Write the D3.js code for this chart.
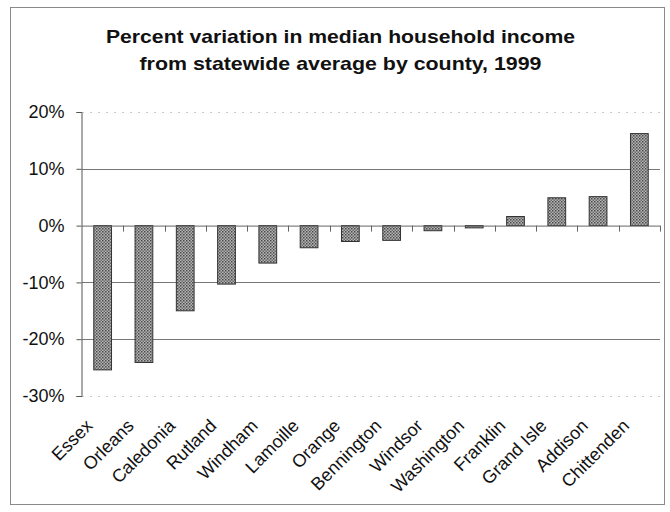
<!DOCTYPE html>
<html>
<head>
<meta charset="utf-8">
<script src="https://cdn.jsdelivr.net/npm/d3@7"></script>
<style>
  body { margin: 0; background: #fff; }
  svg { display: block; }
</style>
</head>
<body>
<svg id="chart" width="670" height="512"></svg>
<script>
// Counties ordered from lowest to highest income variation
const counties = ["Essex", "Orleans", "Caledonia", "Rutland", "Windham", "Lamoille", "Orange",
  "Bennington", "Windsor", "Washington", "Franklin", "Grand Isle", "Addison", "Chittenden"];
// Percent variation from the statewide median household income, 1999
const variation = [-25.4, -24.1, -15.0, -10.3, -6.6, -3.9, -2.8, -2.6, -0.9, -0.4, 1.6, 4.9, 5.1, 16.2];
const yTicks = [20, 10, 0, -10, -20, -30];
const titleLines = ["Percent variation in median household income", "from statewide average by county, 1999"];

const svg = d3.select("#chart");
const font = "Liberation Sans, Arial, sans-serif";

const x0 = 82, x1 = 660;
const y0 = 112, y1 = 396;

const x = d3.scaleBand().domain(counties).range([x0, x1]).paddingInner(0.57).paddingOuter(0.285);
const y = d3.scaleLinear().domain([-30, 20]).range([y1, y0]);

// Halftone-like fill for the bars
const defs = svg.append("defs");
const pat = defs.append("pattern").attr("id", "dots").attr("patternUnits", "userSpaceOnUse")
  .attr("width", 3).attr("height", 3);
pat.append("rect").attr("width", 3).attr("height", 3).attr("fill", "#b4b4b4");
pat.append("rect").attr("width", 1.5).attr("height", 1.5).attr("fill", "#4a4a4a");
pat.append("rect").attr("x", 1.5).attr("y", 1.5).attr("width", 1.5).attr("height", 1.5).attr("fill", "#6a6a6a");

// Outer frame
svg.append("rect").attr("x", 10.5).attr("y", 7.5).attr("width", 654).attr("height", 497)
  .attr("fill", "none").attr("stroke", "#8a8a8a").attr("stroke-width", 1);

// Title
const titleWidths = [469, 402];
svg.append("g").selectAll("text").data(titleLines).join("text")
  .attr("x", 340.5).attr("y", (d, i) => 43 + i * 26.5)
  .attr("text-anchor", "middle")
  .attr("textLength", (d, i) => titleWidths[i]).attr("lengthAdjust", "spacingAndGlyphs")
  .attr("font-family", font).attr("font-weight", "bold").attr("font-size", 18.5).attr("fill", "#111")
  .text(d => d);

// Horizontal gridlines
svg.append("g").selectAll("line").data(yTicks.filter(t => t !== 0)).join("line")
  .attr("x1", x0).attr("x2", x1)
  .attr("y1", d => Math.round(y(d)) + 0.5).attr("y2", d => Math.round(y(d)) + 0.5)
  .attr("stroke", d => (d === 20 || d === -30) ? "#c8c8c8" : "#777")
  .attr("stroke-dasharray", d => (d === 20 || d === -30) ? "2,6" : null)
  .attr("stroke-width", 1);

// Y axis
const yAxis = d3.axisLeft(y).tickValues(yTicks).tickSize(5).tickPadding(12).tickFormat(d => d + "%");
const gy = svg.append("g").attr("transform", `translate(${x0 - 0.5},0)`).call(yAxis);
gy.select(".domain").attr("stroke", "#555");
gy.selectAll(".tick line").attr("stroke", "#555");
gy.selectAll(".tick text").attr("font-family", font).attr("font-size", 18).attr("fill", "#111");

// Bars
svg.append("g").selectAll("rect").data(counties).join("rect")
  .attr("x", d => x(d))
  .attr("width", x.bandwidth())
  .attr("y", (d, i) => y(Math.max(0, variation[i])))
  .attr("height", (d, i) => Math.abs(y(variation[i]) - y(0)))
  .attr("fill", "url(#dots)")
  .attr("stroke", "#333").attr("stroke-width", 1);

// Zero line with category ticks
const step = (x1 - x0) / counties.length;
svg.append("line").attr("x1", x0).attr("x2", x1).attr("y1", y(0) + 0.5).attr("y2", y(0) + 0.5)
  .attr("stroke", "#666").attr("stroke-width", 1);
svg.append("g").selectAll("line").data(d3.range(1, counties.length + 1)).join("line")
  .attr("x1", i => Math.round(x0 + i * step) + 0.5).attr("x2", i => Math.round(x0 + i * step) + 0.5)
  .attr("y1", y(0)).attr("y2", y(0) + 6)
  .attr("stroke", "#666");

// Category labels, rotated
svg.append("g").selectAll("text").data(counties).join("text")
  .attr("transform", d => `translate(${x(d) + x.bandwidth() / 2 - 9},${y1 + 31}) rotate(-45)`)
  .attr("text-anchor", "end")
  .attr("font-family", font).attr("font-size", 18).attr("fill", "#111")
  .text(d => d);
</script>
</body>
</html>
